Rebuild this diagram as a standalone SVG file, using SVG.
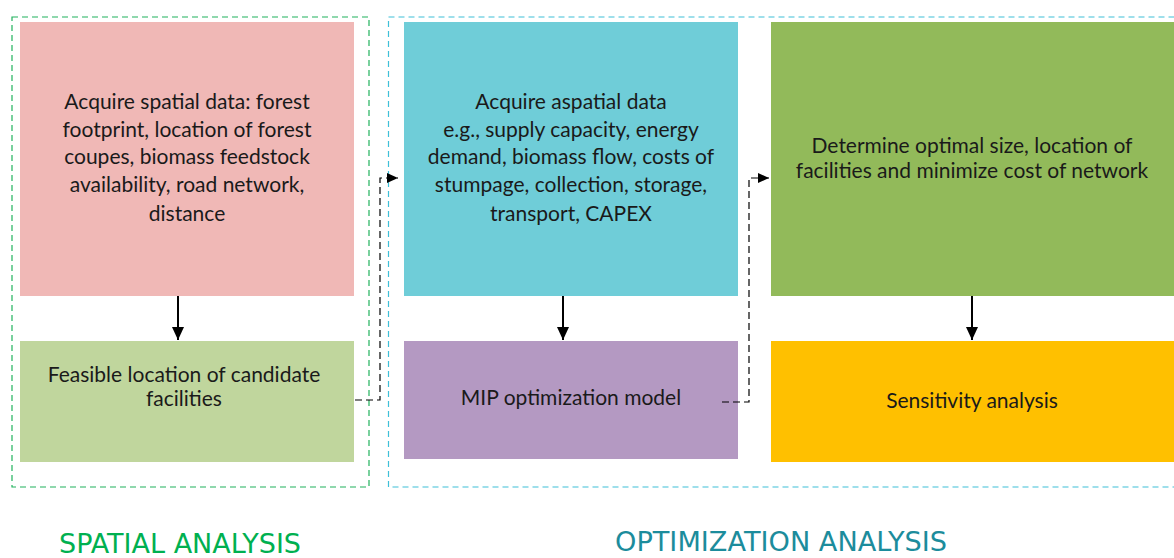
<svg xmlns="http://www.w3.org/2000/svg" width="1174" height="558" viewBox="0 0 1174 558">
<defs>
<style>
.t{font-family:Lato,"Open Sans","Liberation Sans",sans-serif;font-size:21px;fill:#1a1a1a;text-anchor:middle}
.grp{fill:none;stroke-width:1.2;stroke-dasharray:6 4}
.solid{stroke:#000;stroke-width:2;fill:none}
.dash{stroke:#000;stroke-width:1.2;fill:none;stroke-dasharray:7 4}
.title{font-family:"DejaVu Sans","Liberation Sans",sans-serif;font-size:27px;text-anchor:start}
</style>
<marker id="ah" markerWidth="14" markerHeight="14" refX="13" refY="6" orient="auto" markerUnits="userSpaceOnUse">
<path d="M0,0 L13,6 L0,12 Z" fill="#000"/>
</marker>
<marker id="ahs" markerWidth="12" markerHeight="12" refX="11" refY="5" orient="auto" markerUnits="userSpaceOnUse">
<path d="M0,0 L11,5 L0,10 Z" fill="#000"/>
</marker>
</defs>
<rect width="1174" height="558" fill="#fff"/>
<g id="spatial-group">
<rect class="grp" x="12" y="17" width="357" height="470" stroke="#21b25c"/>
</g>
<g id="optimization-group">
<rect class="grp" x="388.5" y="17" width="800" height="470" stroke="#3fbfd8"/>
</g>
<g id="n1">
<rect x="20" y="22" width="334" height="274" fill="#F0B8B6"/>
<text class="t"><tspan x="187" y="109">Acquire spatial data: forest</tspan><tspan x="187" y="137">footprint, location of forest</tspan><tspan x="187" y="164">coupes, biomass feedstock</tspan><tspan x="187" y="192">availability, road network,</tspan><tspan x="187" y="221">distance</tspan></text>
</g>
<g id="n2">
<rect x="20" y="341" width="334" height="121" fill="#C0D69D"/>
<text class="t"><tspan x="184" y="382">Feasible location of candidate</tspan><tspan x="184" y="406">facilities</tspan></text>
</g>
<g id="n3">
<rect x="404" y="22" width="334" height="274" fill="#6FCDD8"/>
<text class="t"><tspan x="571" y="109">Acquire aspatial data</tspan><tspan x="571" y="137">e.g., supply capacity, energy</tspan><tspan x="571" y="164">demand, biomass flow, costs of</tspan><tspan x="571" y="192">stumpage, collection, storage,</tspan><tspan x="571" y="221">transport, CAPEX</tspan></text>
</g>
<g id="n4">
<rect x="404" y="341" width="334" height="118" fill="#B499C2"/>
<text class="t" x="571" y="405">MIP optimization model</text>
</g>
<g id="n5">
<rect x="771" y="22" width="403" height="274" fill="#92BA5A"/>
<text class="t"><tspan x="972" y="153">Determine optimal size, location of</tspan><tspan x="972" y="178">facilities and minimize cost of network</tspan></text>
</g>
<g id="n6">
<rect x="771" y="341" width="403" height="121" fill="#FFC000"/>
<text class="t" x="972" y="408">Sensitivity analysis</text>
</g>
<g id="connectors">
<line class="solid" x1="178" y1="296" x2="178" y2="340" marker-end="url(#ah)"/>
<line class="solid" x1="563" y1="296" x2="563" y2="340" marker-end="url(#ah)"/>
<line class="solid" x1="972" y1="296" x2="972" y2="340" marker-end="url(#ah)"/>
<path class="dash" d="M355,400 H380 V178 H398" marker-end="url(#ahs)"/>
<path class="dash" d="M722,402 H749 V178 H769" marker-end="url(#ahs)"/>
</g>
<g id="labels">
<text class="title" x="59" y="553" fill="#00B050" textLength="242" lengthAdjust="spacingAndGlyphs">SPATIAL ANALYSIS</text>
<text class="title" x="615" y="551" fill="#1C8C9C" textLength="332" lengthAdjust="spacingAndGlyphs">OPTIMIZATION ANALYSIS</text>
</g>
</svg>
